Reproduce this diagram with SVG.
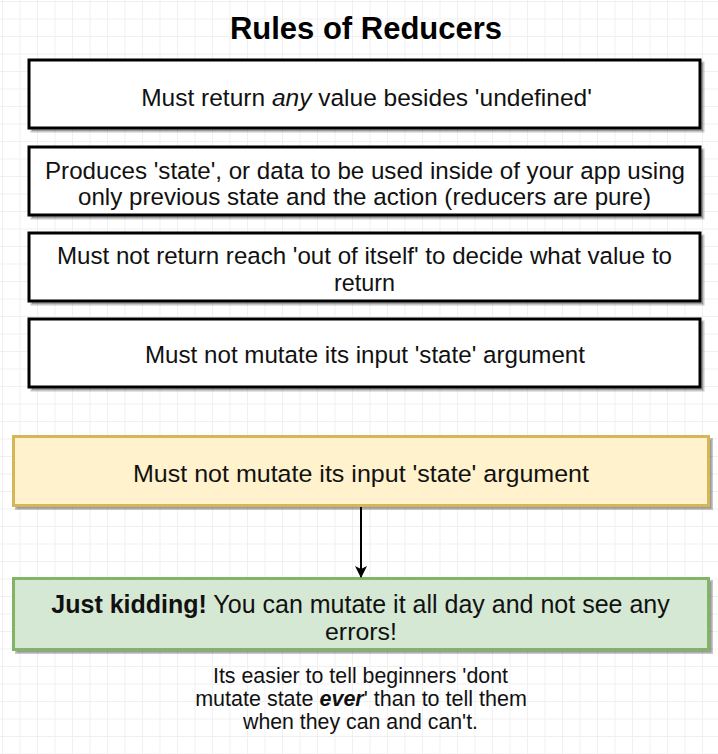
<svg xmlns="http://www.w3.org/2000/svg" width="718" height="754" viewBox="0 0 718 754">
  <defs>
    <pattern id="grid" x="2" y="1" width="17.5" height="17.5" patternUnits="userSpaceOnUse">
      <path d="M0 0.5 H17.5 M0.5 0 V17.5" fill="none" stroke="#f0f0f0" stroke-width="1"/>
    </pattern>
    <marker id="arrow" viewBox="0 0 12 12" refX="11" refY="6" markerWidth="12" markerHeight="12" markerUnits="userSpaceOnUse" orient="auto">
      <path d="M0,0 L12,6 L0,12 L3,6 z" fill="#000"/>
    </marker>
    <style>
      .box { fill: #ffffff; stroke: #000000; stroke-width: 3; }
      .shadow { fill: #000; fill-opacity: 0.22; stroke: #000; stroke-opacity: 0.22; stroke-width: 3; }
      .yellow { fill: #fff2cc; stroke: #d6b656; stroke-width: 3; }
      .green { fill: #d5e8d4; stroke: #82b366; stroke-width: 3; }
      .t { font-family: "Liberation Sans", Arial, sans-serif; font-size: 24.5px; fill: #111; text-anchor: middle; }
      .title { font-family: "Liberation Sans", Arial, sans-serif; font-size: 31px; font-weight: bold; fill: #000; text-anchor: middle; }
      .note { font-family: "Liberation Sans", Arial, sans-serif; font-size: 21.5px; fill: #111; text-anchor: middle; }
    </style>
  </defs>
  <rect x="0" y="0" width="718" height="754" fill="#ffffff"/>
  <rect x="0" y="0" width="718" height="754" fill="url(#grid)"/>

  <g id="title">
    <text class="title" x="366" y="39">Rules of Reducers</text>
  </g>

  <g id="rule1">
    <rect class="shadow" x="32" y="63" width="671" height="68"/>
    <rect class="box" x="29" y="60" width="671" height="68"/>
    <text class="t" x="366.5" y="106">Must return <tspan font-style="italic">any</tspan> value besides 'undefined'</text>
  </g>

  <g id="rule2">
    <rect class="shadow" x="32" y="150" width="671" height="68"/>
    <rect class="box" x="29" y="147" width="671" height="68"/>
    <text class="t" x="365" y="179" textLength="640" lengthAdjust="spacingAndGlyphs">Produces 'state', or data to be used inside of your app using</text>
    <text class="t" x="364.5" y="205" textLength="573" lengthAdjust="spacingAndGlyphs">only previous state and the action (reducers are pure)</text>
  </g>

  <g id="rule3">
    <rect class="shadow" x="32" y="236" width="671" height="68"/>
    <rect class="box" x="29" y="233" width="671" height="68"/>
    <text class="t" x="364.5" y="264" textLength="615" lengthAdjust="spacingAndGlyphs">Must not return reach 'out of itself' to decide what value to</text>
    <text class="t" x="364.5" y="291" textLength="61" lengthAdjust="spacingAndGlyphs">return</text>
  </g>

  <g id="rule4">
    <rect class="shadow" x="32" y="322" width="671" height="68"/>
    <rect class="box" x="29" y="319" width="671" height="68"/>
    <text class="t" x="365" y="363" textLength="440" lengthAdjust="spacingAndGlyphs">Must not mutate its input 'state' argument</text>
  </g>

  <g id="mutate">
    <rect class="shadow" x="16.5" y="439.5" width="695" height="69"/>
    <rect class="yellow" x="13.5" y="436.5" width="695" height="69"/>
    <text class="t" x="361" y="482" textLength="456" lengthAdjust="spacingAndGlyphs">Must not mutate its input 'state' argument</text>
  </g>

  <g id="kidding">
    <rect class="shadow" x="16.5" y="581.5" width="695" height="71"/>
    <rect class="green" x="13.5" y="578.5" width="695" height="71"/>
    <text class="t" x="360.5" y="613" style="font-size:25px"><tspan font-weight="bold">Just kidding!</tspan> You can mutate it all day and not see any</text>
    <text class="t" x="361" y="640" textLength="72" lengthAdjust="spacingAndGlyphs">errors!</text>
  </g>

  <g id="note">
    <text class="note" x="360.5" y="683" textLength="295" lengthAdjust="spacingAndGlyphs">Its easier to tell beginners 'dont</text>
    <text class="note" x="361" y="706">mutate state <tspan font-weight="bold" font-style="italic">ever</tspan>' than to tell them</text>
    <text class="note" x="360.5" y="729" textLength="235" lengthAdjust="spacingAndGlyphs">when they can and can't.</text>
  </g>

  <g id="connectors">
    <line x1="361" y1="507" x2="361" y2="577" stroke="#000" stroke-width="2" marker-end="url(#arrow)"/>
  </g>
</svg>
